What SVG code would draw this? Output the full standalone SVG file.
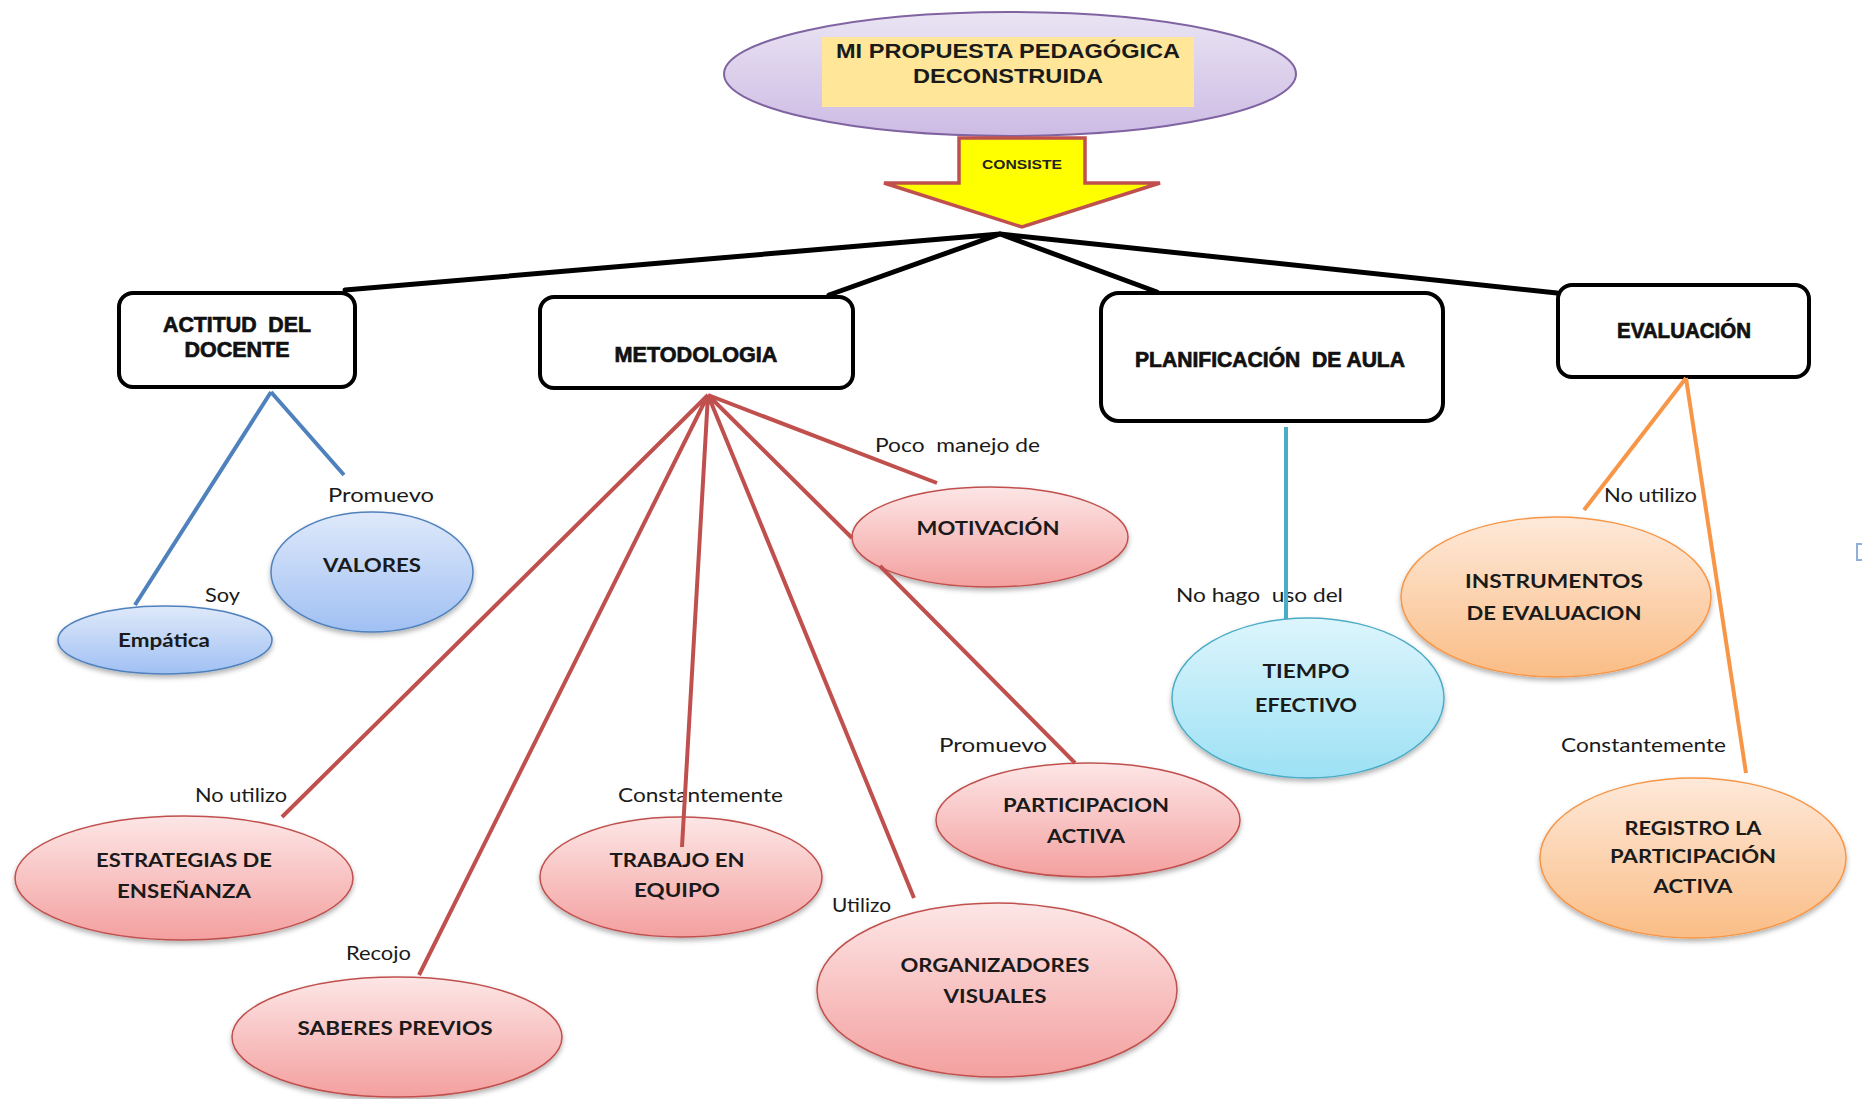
<svg xmlns="http://www.w3.org/2000/svg" width="1862" height="1099" viewBox="0 0 1862 1099">
<style>
.box{fill:#fff;stroke:#000;stroke-width:4}
.bt{font-family:"Liberation Sans Narrow","Liberation Sans",Arial,sans-serif;font-weight:bold;font-size:22px;fill:#111;stroke:#111;stroke-width:0.7;text-anchor:middle}
.nt{font-family:Lato,"Noto Sans",sans-serif;font-weight:bold;font-size:18px;fill:#1a1a1a;text-anchor:middle}
.lb{font-family:Lato,"Noto Sans",sans-serif;font-size:19px;fill:#1a1a1a}
.ttl{font-family:"Liberation Sans",Arial,sans-serif;font-weight:bold;font-size:21px;fill:#1a1a1a;text-anchor:middle}
.blk{stroke:#000;stroke-width:5;fill:none;stroke-linecap:round}
.red{stroke:#C0504D;stroke-width:4;fill:none}
.blu{stroke:#4F81BD;stroke-width:4;fill:none}
.teal{stroke:#4BACC6;stroke-width:4;fill:none}
.org{stroke:#F79646;stroke-width:4;fill:none}
.pink{fill:url(#gPink);stroke:#C0504D;stroke-width:1.5;filter:url(#sh)}
.blue{fill:url(#gBlue);stroke:#4F81BD;stroke-width:1.5;filter:url(#sh)}
.cyan{fill:url(#gCyan);stroke:#4BACC6;stroke-width:1.5;filter:url(#sh)}
.orng{fill:url(#gOrg);stroke:#F79646;stroke-width:1.5;filter:url(#sh)}
</style>
<defs>
<linearGradient id="gPink" x1="0" y1="0" x2="0" y2="1"><stop offset="0" stop-color="#FDE6E6"/><stop offset="1" stop-color="#F3A09F"/></linearGradient>
<linearGradient id="gBlue" x1="0" y1="0" x2="0" y2="1"><stop offset="0" stop-color="#DFE9FA"/><stop offset="1" stop-color="#A0C0F3"/></linearGradient>
<linearGradient id="gCyan" x1="0" y1="0" x2="0" y2="1"><stop offset="0" stop-color="#DDF5FC"/><stop offset="1" stop-color="#9DE1F5"/></linearGradient>
<linearGradient id="gOrg" x1="0" y1="0" x2="0" y2="1"><stop offset="0" stop-color="#FEE9D9"/><stop offset="1" stop-color="#FABD86"/></linearGradient>
<linearGradient id="gPur" x1="0" y1="0" x2="0" y2="1"><stop offset="0" stop-color="#EAE4F3"/><stop offset="1" stop-color="#CDBBE4"/></linearGradient>
<filter id="sh" x="-10%" y="-10%" width="120%" height="130%"><feDropShadow dx="0" dy="3" stdDeviation="2.5" flood-color="#000" flood-opacity="0.3"/></filter>
</defs>
<rect width="1862" height="1099" fill="#fff"/>

<g id="root">
<ellipse cx="1010" cy="74" rx="286" ry="62" fill="url(#gPur)" stroke="#8064A2" stroke-width="2"/>
<rect x="822" y="37" width="372" height="70" fill="#FFE699"/>
<text class="ttl" x="1008" y="58" textLength="344" lengthAdjust="spacingAndGlyphs">MI PROPUESTA PEDAGÓGICA</text>
<text class="ttl" x="1008" y="83" textLength="190" lengthAdjust="spacingAndGlyphs">DECONSTRUIDA</text>
</g>

<g id="consiste">
<polygon points="959,138 1085,138 1085,183 1160,183 1022,227 884,183 959,183" fill="#FFFF00" stroke="#C0504D" stroke-width="3.5"/>
<text x="1022" y="169" font-family="'Liberation Sans',Arial,sans-serif" font-weight="bold" font-size="12" fill="#222" text-anchor="middle" textLength="80" lengthAdjust="spacingAndGlyphs">CONSISTE</text>
</g>

<g id="actitud">
<rect class="box" x="119" y="293" width="236" height="94" rx="14"/>
<text class="bt" x="237" y="332" textLength="148" lengthAdjust="spacingAndGlyphs" xml:space="preserve">ACTITUD  DEL</text>
<text class="bt" x="237" y="357" textLength="105" lengthAdjust="spacingAndGlyphs">DOCENTE</text>
</g>
<g id="metodologia">
<rect class="box" x="540" y="297" width="313" height="91" rx="14"/>
<text class="bt" x="696" y="362" textLength="163" lengthAdjust="spacingAndGlyphs">METODOLOGIA</text>
</g>
<g id="planificacion">
<rect class="box" x="1101" y="293" width="342" height="128" rx="18"/>
<text class="bt" x="1270" y="367" textLength="270" lengthAdjust="spacingAndGlyphs" xml:space="preserve">PLANIFICACIÓN  DE AULA</text>
</g>
<g id="evaluacion">
<rect class="box" x="1558" y="285" width="251" height="92" rx="14"/>
<text class="bt" x="1684" y="338" textLength="134" lengthAdjust="spacingAndGlyphs">EVALUACIÓN</text>
</g>

<g id="empatica">
<ellipse class="blue" cx="165" cy="640" rx="107" ry="34"/>
<text class="nt" x="164" y="647" textLength="92" lengthAdjust="spacingAndGlyphs">Empática</text>
</g>
<g id="valores">
<ellipse class="blue" cx="372" cy="572" rx="101" ry="60"/>
<text class="nt" x="372" y="572" textLength="98" lengthAdjust="spacingAndGlyphs">VALORES</text>
</g>

<g id="motivacion">
<ellipse class="pink" cx="990" cy="537" rx="138" ry="50"/>
<text class="nt" x="988" y="535" textLength="143" lengthAdjust="spacingAndGlyphs">MOTIVACIÓN</text>
</g>
<g id="estrategias">
<ellipse class="pink" cx="184" cy="878" rx="169" ry="62"/>
<text class="nt" x="184" y="867" textLength="176" lengthAdjust="spacingAndGlyphs">ESTRATEGIAS DE</text>
<text class="nt" x="184" y="898" textLength="134" lengthAdjust="spacingAndGlyphs">ENSEÑANZA</text>
</g>
<g id="saberes">
<ellipse class="pink" cx="397" cy="1037" rx="165" ry="60"/>
<text class="nt" x="395" y="1035" textLength="195" lengthAdjust="spacingAndGlyphs">SABERES PREVIOS</text>
</g>
<g id="trabajo">
<ellipse class="pink" cx="681" cy="877" rx="141" ry="60"/>
<text class="nt" x="677" y="867" textLength="135" lengthAdjust="spacingAndGlyphs">TRABAJO EN</text>
<text class="nt" x="677" y="897" textLength="86" lengthAdjust="spacingAndGlyphs">EQUIPO</text>
</g>
<g id="organizadores">
<ellipse class="pink" cx="997" cy="990" rx="180" ry="87"/>
<text class="nt" x="995" y="972" textLength="189" lengthAdjust="spacingAndGlyphs">ORGANIZADORES</text>
<text class="nt" x="995" y="1003" textLength="103" lengthAdjust="spacingAndGlyphs">VISUALES</text>
</g>
<g id="participacion">
<ellipse class="pink" cx="1088" cy="820" rx="152" ry="57"/>
<text class="nt" x="1086" y="812" textLength="166" lengthAdjust="spacingAndGlyphs">PARTICIPACION</text>
<text class="nt" x="1086" y="843" textLength="78" lengthAdjust="spacingAndGlyphs">ACTIVA</text>
</g>

<g id="tiempo">
<ellipse class="cyan" cx="1308" cy="698" rx="136" ry="80"/>
<text class="nt" x="1306" y="678" textLength="87" lengthAdjust="spacingAndGlyphs">TIEMPO</text>
<text class="nt" x="1306" y="712" textLength="102" lengthAdjust="spacingAndGlyphs">EFECTIVO</text>
</g>

<g id="instrumentos">
<ellipse class="orng" cx="1556" cy="597" rx="155" ry="80"/>
<text class="nt" x="1554" y="588" textLength="178" lengthAdjust="spacingAndGlyphs">INSTRUMENTOS</text>
<text class="nt" x="1554" y="620" textLength="175" lengthAdjust="spacingAndGlyphs">DE EVALUACION</text>
</g>
<g id="registro">
<ellipse class="orng" cx="1693" cy="858" rx="153" ry="80"/>
<text class="nt" x="1693" y="835" textLength="137" lengthAdjust="spacingAndGlyphs">REGISTRO LA</text>
<text class="nt" x="1693" y="863" textLength="166" lengthAdjust="spacingAndGlyphs">PARTICIPACIÓN</text>
<text class="nt" x="1693" y="893" textLength="79" lengthAdjust="spacingAndGlyphs">ACTIVA</text>
</g>

<g id="connectors">
<g id="labels">
<text class="lb" x="205" y="602" textLength="35" lengthAdjust="spacingAndGlyphs">Soy</text>
<text class="lb" x="328" y="502" textLength="106" lengthAdjust="spacingAndGlyphs">Promuevo</text>
<text class="lb" x="875" y="452" textLength="165" lengthAdjust="spacingAndGlyphs" xml:space="preserve">Poco  manejo de</text>
<text class="lb" x="195" y="802" textLength="92" lengthAdjust="spacingAndGlyphs">No utilizo</text>
<text class="lb" x="346" y="960" textLength="65" lengthAdjust="spacingAndGlyphs">Recojo</text>
<text class="lb" x="618" y="802" textLength="165" lengthAdjust="spacingAndGlyphs">Constantemente</text>
<text class="lb" x="832" y="912" textLength="59" lengthAdjust="spacingAndGlyphs">Utilizo</text>
<text class="lb" x="939" y="752" textLength="108" lengthAdjust="spacingAndGlyphs">Promuevo</text>
<text class="lb" x="1176" y="602" textLength="167" lengthAdjust="spacingAndGlyphs" xml:space="preserve">No hago  uso del</text>
<text class="lb" x="1604" y="502" textLength="93" lengthAdjust="spacingAndGlyphs">No utilizo</text>
<text class="lb" x="1561" y="752" textLength="165" lengthAdjust="spacingAndGlyphs">Constantemente</text>
</g>
<path class="blk" d="M1000,234 L345,290 M1000,234 L829,295 M1000,234 L1157,292 M1000,234 L1557,293"/>
<path class="blu" d="M271,392 L135,605 M271,392 L344,475"/>
<path class="red" d="M708,395 L282,817 M708,395 L419,975 M708,395 L682,847 M708,395 L914,898 M708,395 L937,483 M708,395 L852,538 M880,566 L1075,763"/>
<path class="teal" d="M1286,427 L1286,619"/>
<path class="org" d="M1686,378 L1584,510 M1686,378 L1746,773"/>
</g>

<rect x="1857" y="544" width="8" height="16" fill="none" stroke="#8FB0DA" stroke-width="2"/>
</svg>
